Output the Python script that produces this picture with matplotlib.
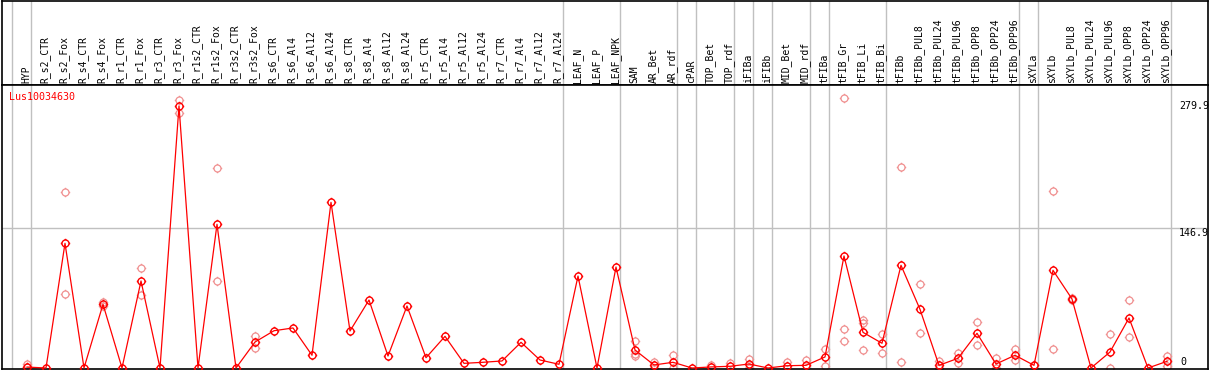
import numpy as np
import matplotlib
matplotlib.use("Agg")
import matplotlib.pyplot as plt
from matplotlib.path import Path

# ---------------- data ----------------
gene = "Lus10034630"
labels = ["HYP", "R_s2_CTR", "R_s2_Fox", "R_s4_CTR", "R_s4_Fox", "R_r1_CTR", "R_r1_Fox",
          "R_r3_CTR", "R_r3_Fox", "R_r1s2_CTR", "R_r1s2_Fox", "R_r3s2_CTR", "R_r3s2_Fox",
          "R_s6_CTR", "R_s6_Al4", "R_s6_Al12", "R_s6_Al24", "R_s8_CTR", "R_s8_Al4",
          "R_s8_Al12", "R_s8_Al24", "R_r5_CTR", "R_r5_Al4", "R_r5_Al12", "R_r5_Al24",
          "R_r7_CTR", "R_r7_Al4", "R_r7_Al12", "R_r7_Al24", "LEAF_N", "LEAF_P", "LEAF_NPK",
          "SAM", "AR_Bet", "AR_rdf", "cPAR", "TOP_Bet", "TOP_rdf", "iFIBa", "iFIBb",
          "MID_Bet", "MID_rdf", "tFIBa", "tFIB_Gr", "tFIB_Li", "tFIB_Bi", "tFIBb",
          "tFIBb_PUL8", "tFIBb_PUL24", "tFIBb_PUL96", "tFIBb_OPP8", "tFIBb_OPP24",
          "tFIBb_OPP96", "sXYLa", "sXYLb", "sXYLb_PUL8", "sXYLb_PUL24", "sXYLb_PUL96",
          "sXYLb_OPP8", "sXYLb_OPP24", "sXYLb_OPP96"]

means = [1.0, 0, 131.1, 0, 67.0, 0, 91.5, 0, 275.5, 0, 151.1, 0, 27.3,
         39.2, 42.1, 13.4, 174.2, 38.9, 71.5, 12.6, 65.2, 10.8, 33.3, 4.9, 6.0,
         7.4, 27.0, 8.4, 3.9, 96.7, 0, 106.2,
         18.9, 3.2, 6.0, 0, 1.1, 1.8, 4.2, 0, 2.4, 2.8, 11.6, 117.8, 37.5, 26.0, 108.0,
         61.7, 2.8, 10.2, 36.5, 4.2, 13.4, 2.8, 102.7, 72.6, 0, 16.8, 52.6, 0, 7.0]

nan = np.nan
rep1 = [4.2, nan, 184.8, nan, 69.7, nan, 104.8, nan, 281.8, nan, 210.6, nan, 33.6,
        nan, nan, nan, nan, nan, nan, nan, nan, nan, nan, nan, nan,
        nan, nan, nan, nan, nan, nan, nan,
        28.7, 6.6, 13.7, nan, 2.8, 5.6, 9.8, nan, 6.0, 8.4, 20.0, 283.6, 50.5, 35.8, 211.0,
        88.0, 7.7, 15.5, 48.4, 10.5, 20.3, 2.8, 185.8, 73.3, nan, 35.4, 71.5, nan, 13.0]
rep2 = [1.5, nan, 77.5, nan, 65.2, nan, 76.4, nan, 267.8, nan, 91.5, nan, 21.3,
        nan, nan, nan, nan, nan, nan, nan, nan, nan, nan, nan, nan,
        nan, nan, nan, nan, nan, nan, nan,
        12.9, 0, 0.5, nan, nan, nan, 0.5, nan, nan, nan, 2.1, 40.7, 47.0, 15.5, 6.0,
        36.8, 0.5, 5.6, 23.9, 0, 8.1, nan, 20.0, 71.9, nan, 0, 32.6, nan, 2.5]
rep3 = [nan] * 32 + [15.1] + [nan] * 10 + [28.4, 18.9] + [nan] * 16

separators_after = [-1, 0, 28, 31, 34, 35, 37, 38, 39, 41, 42, 45, 52, 53, 60]
y_ticks = [0, 146.9, 279.9]

# ---------------- layout (pixel based) ----------------
W, H = 1209, 370
DPI = 100
fig = plt.figure(figsize=(W / DPI, H / DPI), dpi=DPI)
fig.patch.set_facecolor("white")

x0_px, x1_px = 1.5, 1207.5
top_px, mid_px, bot_px = 0.5, 85, 369
col0_px, dcol_px = 27, 19
zero_px, scale = 368, 0.951   # px per unit

def fx(px):
    return px / W

def fy(py):
    return 1 - py / H

xlim = ((x0_px - col0_px) / dcol_px, (x1_px - col0_px) / dcol_px)
ylim = ((zero_px - bot_px) / scale, (zero_px - mid_px) / scale)

ax_lab = fig.add_axes([fx(x0_px), fy(mid_px), (x1_px - x0_px) / W, (mid_px - top_px) / H])
ax = fig.add_axes([fx(x0_px), fy(bot_px), (x1_px - x0_px) / W, (bot_px - mid_px) / H])

for a in (ax_lab, ax):
    a.set_xlim(*xlim)
    a.set_xticks([])
    a.set_yticks([])
    for s in a.spines.values():
        s.set_color("black")
        s.set_linewidth(1.2)
ax.set_ylim(*ylim)
ax_lab.set_ylim(0, 1)

grey = "#c0c0c0"
for s in separators_after:
    for a in (ax_lab, ax):
        a.axvline(s + 0.2, color=grey, lw=1.0, zorder=0.5)
ax.axhline(y_ticks[1], color=grey, lw=1.0, zorder=0.5)

# marker: circle with four small spikes
circ = Path.circle((0, 0), 1.0)
spikes = []
for dx, dy in [(1, 0), (-1, 0), (0, 1), (0, -1)]:
    spikes.append(Path([[dx, dy], [1.35 * dx, 1.35 * dy]], [Path.MOVETO, Path.LINETO]))
marker_path = Path.make_compound_path(circ, *spikes)

x = np.arange(len(labels))
faint = "#f09090"
red = "#ff0000"
for reps in (rep1, rep2, rep3):
    ax.plot(x, reps, linestyle="none", marker=marker_path, markersize=6.8,
            mfc="none", mec=faint, mew=0.9, zorder=2)
ax.plot(x, means, color=red, lw=0.9, zorder=3)
ax.plot(x, means, linestyle="none", marker=marker_path, markersize=6.8,
        mfc="none", mec=red, mew=1.0, zorder=4)

# column labels
font = "DejaVu Sans Mono"
for i, lab in enumerate(labels):
    ax_lab.text(i - 0.05, (mid_px - 83) / (mid_px - top_px), lab, rotation=90,
                ha="center", va="bottom", fontsize=7, family=font, color="black")

# gene name
fig.text(fx(9), fy(97), gene, color=red, fontsize=7.2, family=font, ha="left", va="center")

# right-hand value labels
fig.text(fx(1179), fy(106), f"{y_ticks[2]}", fontsize=7.2, family=font, ha="left", va="center")
fig.text(fx(1179), fy(233), f"{y_ticks[1]}", fontsize=7.2, family=font, ha="left", va="center")
fig.text(fx(1180), fy(362), f"{y_ticks[0]}", fontsize=7.2, family=font, ha="left", va="center")

fig.savefig("out.png", dpi=DPI, facecolor="white")
